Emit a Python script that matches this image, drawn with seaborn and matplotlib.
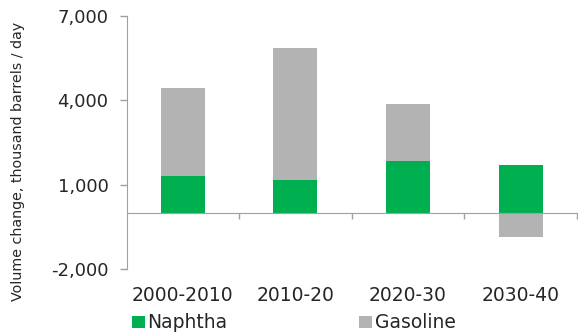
import numpy as np
import pandas as pd
import matplotlib
matplotlib.use("Agg")
import matplotlib.pyplot as plt
from matplotlib.patches import Patch
import seaborn as sns

# Volume change per decade, thousand barrels / day
periods = ["2000-2010", "2010-20", "2020-30", "2030-40"]
naphtha = [1300, 1160, 1840, 1690]
gasoline = [3130, 4690, 2050, -850]
y_ticks = [-2000, 1000, 4000, 7000]

GREEN = "#00b050"
GREY = "#b3b3b3"
TEXT = "#262626"
AXIS = "#a0a0a0"

sns.set_style("white")
plt.rcParams["font.family"] = ["DejaVu Sans"]

naph = np.array(naphtha, dtype=float)
gas = np.array(gasoline, dtype=float)
# positive gasoline stacks on top of naphtha, negative hangs below zero
gas_top = np.where(gas >= 0, naph + gas, gas)

df = pd.DataFrame({"period": periods, "naphtha": naph, "gas_top": gas_top})

fig = plt.figure(figsize=(5.78, 3.34), dpi=100)
ax = fig.add_axes([0.219, 0.1937, 0.779, 0.7584])

sns.barplot(data=df, x="period", y="gas_top", color=GREY, saturation=1,
            width=0.39, ax=ax, linewidth=0)
sns.barplot(data=df, x="period", y="naphtha", color=GREEN, saturation=1,
            width=0.39, ax=ax, linewidth=0)

ax.set_xlim(-0.5, 3.5)
ax.set_ylim(-2000, 7000)
ax.set_yticks(y_ticks)
ax.set_yticklabels([f"{v:,}" for v in y_ticks], fontsize=13, color=TEXT)
ax.tick_params(axis="y", length=5, width=1, color=AXIS, pad=8, left=True)

# zero line with small category separators
for s in ["top", "right"]:
    ax.spines[s].set_visible(False)
ax.spines["bottom"].set_position(("data", 0))
ax.spines["bottom"].set_color(AXIS)
ax.spines["left"].set_color(AXIS)
ax.set_xticks([0, 1, 2, 3])
ax.set_xticklabels([])
ax.tick_params(axis="x", which="major", length=0)
ax.set_xticks([0.5, 1.5, 2.5, 3.5], minor=True)
ax.tick_params(axis="x", which="minor", length=4, width=1, color=AXIS,
               direction="out", bottom=True)
ax.set_xlabel("")
ax.set_ylabel("Volume change, thousand barrels / day", fontsize=10.3,
              color=TEXT)
ax.yaxis.set_label_coords(-0.226, 0.424)

# category labels along the bottom of the plot area
sec = ax.secondary_xaxis(0)
sec.set_xticks([0, 1, 2, 3])
sec.set_xticklabels(periods, fontsize=13.5, color=TEXT)
sec.tick_params(length=0, pad=12)
sec.spines["bottom"].set_visible(False)

handles = [Patch(facecolor=GREEN, edgecolor="none", label="Naphtha"),
           Patch(facecolor=GREY, edgecolor="none", label="Gasoline")]
fig.legend(handles=handles, loc="center left",
           bbox_to_anchor=(132 / 578, 1 - 323 / 334), ncol=2, frameon=False,
           fontsize=13.5, handlelength=0.68, handleheight=0.55,
           handletextpad=0.15, columnspacing=7.0, borderpad=0,
           borderaxespad=0, labelcolor=TEXT)

fig.savefig("out.png", dpi=100)
